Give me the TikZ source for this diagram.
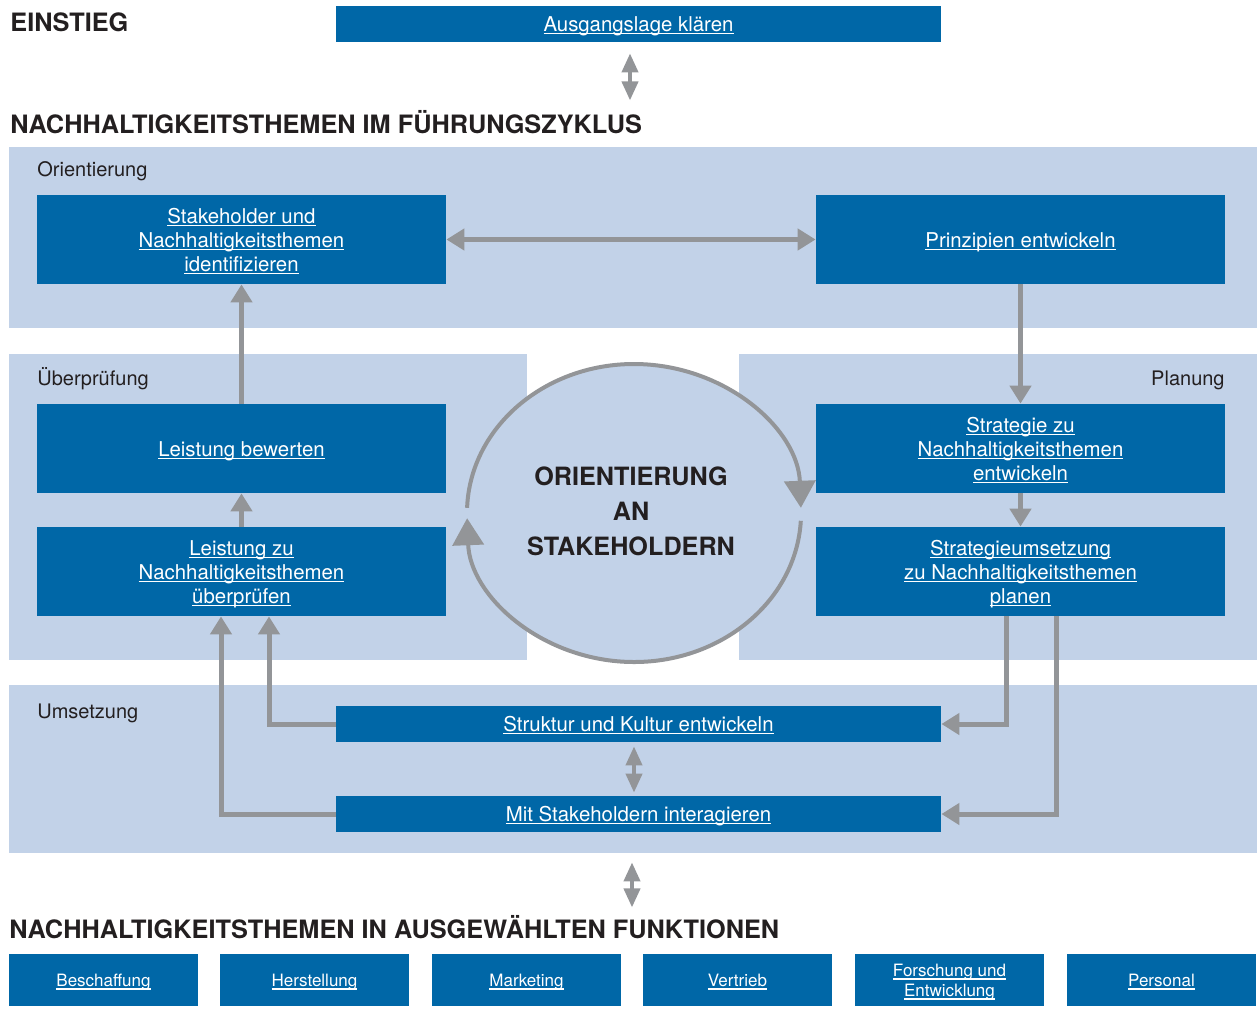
\documentclass[tikz,border=0pt]{standalone}
\usepackage{fontspec}
\setmainfont{TeX Gyre Heros}
\usepackage{xcolor}
\usepackage{tikz}
\usetikzlibrary{calc,arrows.meta}
\definecolor{boxblue}{RGB}{0,103,167}
\definecolor{bandblue}{RGB}{194,210,232}
\definecolor{arrowgray}{RGB}{147,149,152}
\definecolor{titleblack}{RGB}{35,31,32}
\newsavebox{\lnkbox}
\newcommand{\lnk}[1]{\sbox{\lnkbox}{#1}\raisebox{-1.3pt}[0.72em][0.21em]{\rlap{\rule[-1.3pt]{\wd\lnkbox}{0.6pt}}\usebox{\lnkbox}}}

\begin{document}
\begin{tikzpicture}[x=0.5pt, y=-0.5pt,
    box/.style={fill=boxblue, text=white, inner sep=0pt, align=center, font=\fontsize{10.2}{12}\selectfont},
    bigbox/.style={box, minimum width=204.5pt, minimum height=44.5pt},
    widebox/.style={box, minimum width=302.5pt, minimum height=18pt},
    fnbox/.style={box, minimum width=94.5pt, minimum height=26pt, font=\fontsize{8.5}{10}\selectfont},
    title/.style={anchor=base west, inner sep=0pt, text=titleblack, font=\fontsize{12.65}{15}\selectfont\bfseries},
    bandlabel/.style={anchor=base west, inner sep=0pt, text=titleblack, font=\fontsize{10}{12}\selectfont},
    flow/.style={draw=arrowgray, line width=2.5pt, -{Triangle[length=9pt, width=10.5pt]}},
    flowboth/.style={flow, {Triangle[length=9pt, width=10.5pt]}-{Triangle[length=9pt, width=10.5pt]}},
    link/.style={draw=arrowgray, line width=2pt, {Triangle[length=9.5pt, width=8pt]}-{Triangle[length=9.5pt, width=8pt]}},
    cyclearc/.style={draw=arrowgray, line width=2pt, -{Triangle[length=13.5pt, width=15.5pt]}}]
    \useasboundingbox (0,0) rectangle (1258,1034);

    \fill[bandblue] (9,147) rectangle (1257,328);
    \fill[bandblue] (9,354) rectangle (527,660);
    \fill[bandblue] (739,354) rectangle (1257,660);
    \fill[bandblue] (9,685) rectangle (1257,853);
    \coordinate (hub) at (634,513);
    \fill[bandblue] (hub) ellipse [x radius=83.5pt, y radius=74.5pt];

    \node[title] (t1) at (10,31) {EINSTIEG};
    \node[title] (t2) at (10,133) {NACHHALTIGKEITSTHEMEN IM FÜHRUNGSZYKLUS};
    \node[title] (t3) at (9,938) {NACHHALTIGKEITSTHEMEN IN AUSGEWÄHLTEN FUNKTIONEN};

    \node[bandlabel] (l1) at (37,176) {Orientierung};
    \node[bandlabel] (l2) at (37,385) {Überprüfung};
    \node[bandlabel, anchor=base east] (l3) at (1225,385) {Planung};
    \node[bandlabel] (l4) at (37,718) {Umsetzung};

    \node[widebox] (start) at (638.5,24) {\lnk{Ausgangslage klären}};
    \node[bigbox] (sh) at (241.5,239.5) {\lnk{Stakeholder und}\\\lnk{Nachhaltigkeitsthemen}\\\lnk{identifizieren}};
    \node[bigbox] (pr) at (1020.5,239.5) {\lnk{Prinzipien entwickeln}};
    \node[bigbox] (lb) at (241.5,448.5) {\lnk{Leistung bewerten}};
    \node[bigbox] (lz) at (241.5,571.5) {\lnk{Leistung zu}\\\lnk{Nachhaltigkeitsthemen}\\\lnk{überprüfen}};
    \node[bigbox] (sz) at (1020.5,448.5) {\lnk{Strategie zu}\\\lnk{Nachhaltigkeitsthemen}\\\lnk{entwickeln}};
    \node[bigbox] (su) at (1020.5,571.5) {\lnk{Strategieumsetzung}\\\lnk{zu Nachhaltigkeitsthemen}\\\lnk{planen}};
    \node[widebox] (st) at (638.5,724) {\lnk{Struktur und Kultur entwickeln}};
    \node[widebox] (mi) at (638.5,814) {\lnk{Mit Stakeholdern interagieren}};

    \node[align=center, inner sep=0pt, text=titleblack, font=\fontsize{12.6}{17.5}\selectfont\bfseries] (core) at (631,511) {ORIENTIERUNG\\AN\\STAKEHOLDERN};

    \foreach \fx/\fname [count=\i] in {103.5/\lnk{Beschaffung}, 314.5/\lnk{Herstellung}, 526.5/\lnk{Marketing}, 737.5/\lnk{Vertrieb}, 949.5/{\lnk{Forschung und}\\\lnk{Entwicklung}}, 1161.5/\lnk{Personal}}
        \node[fnbox] (fn\i) at (\fx,980) {\fname};

    \draw[link] ($(start.south)+(-8.5,11)$) -- ($(start.south)+(-8.5,58)$);
    \draw[link] ([xshift=-2.25pt,yshift=-2pt]st.south) -- ([xshift=-2.25pt,yshift=1.5pt]mi.north);
    \draw[link] ($(mi.south)+(-6.5,30)$) -- ($(mi.south)+(-6.5,75)$);

    \draw[flowboth] (sh.east) -- (pr.west);
    \draw[flow] (lb.north) -- (sh.south);
    \draw[flow] (lz.north) -- (lb.south);
    \draw[flow] (pr.south) -- (sz.north);
    \draw[flow] (sz.south) -- (su.north);
    \draw[flow] (st.west) -| ([xshift=13.75pt]lz.south);
    \draw[flow] (mi.west) -| ([xshift=-10.25pt]lz.south);
    \draw[flow] ([xshift=-7.25pt]su.south) |- (st.east);
    \draw[flow] ([xshift=17.75pt]su.south) |- (mi.east);

    \draw[cyclearc] ($(hub)+(-166.9,-5.2)$) arc[start angle=178, end angle=2, x radius=83.5pt, y radius=74.5pt];
    \draw[cyclearc] ($(hub)+(166.8,7.8)$) arc[start angle=-3, end angle=-178, x radius=83.5pt, y radius=74.5pt];
\end{tikzpicture}
\end{document}
